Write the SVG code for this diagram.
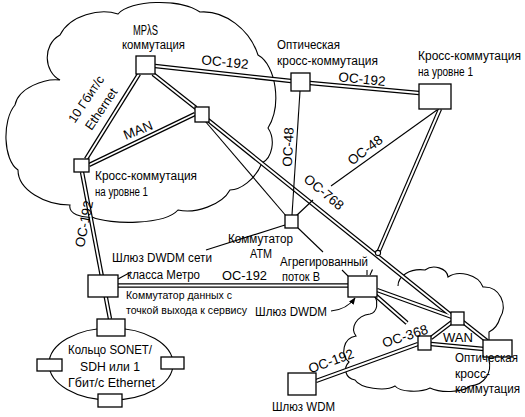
<svg xmlns="http://www.w3.org/2000/svg" width="525" height="417" viewBox="0 0 525 417">
<defs>
<marker id="ah" viewBox="0 0 10 10" refX="9" refY="5" markerWidth="7" markerHeight="7" orient="auto" markerUnits="userSpaceOnUse"><path d="M0,1 L10,5 L0,9 z" fill="#000"/></marker>
</defs>
<style>
.cloud{fill:none;stroke:#000;stroke-width:1.1}
.box{fill:#fff;stroke:#000;stroke-width:1.3}
.dbo line{stroke:#000;stroke-width:4.4}
.dbi line{stroke:#fff;stroke-width:1.9}
.sl{stroke:#000;stroke-width:1.1;fill:none}
text{font-family:"Liberation Sans",Arial,sans-serif;font-size:12.5px;fill:#000}
.sm{font-size:11.5px}
.oc{font-size:13.5px}
.big{font-size:14px}
</style>
<rect width="525" height="417" fill="#fff"/>
<g id="clouds">
<path class="cloud" d="M60,80 C44,72 42,45 60,35 C70,15 100,8 118,14 C130,0 180,-2 200,12 C225,10 250,30 258,55 C276,65 282,105 268,128 C276,140 272,158 262,163 C255,180 240,190 230,190 C222,205 195,214 178,210 C165,225 110,225 92,217 C82,218 68,214 70,205 C45,205 18,190 18,170 C3,160 2,120 15,105 C18,88 45,78 60,80 Z"/>
<path class="cloud" d="M398,286 C398,276 410,268 425,270 C433,264 447,268 448,277 C458,270 478,274 483,287 C500,286 508,305 500,318 C498,325 493,330 489,332 L489,360 C492,372 485,385 470,386 C462,393 440,393 430,388 C420,393 400,392 395,386 C385,392 360,388 355,380 C345,378 343,368 349,362 C340,355 343,338 356,336 C350,328 356,316 370,314 C378,312 378,302 375,296"/>
<ellipse class="cloud" cx="111" cy="364" rx="62" ry="36"/>
</g>
<g id="connectors">
<g class="dbo">
<line x1="155" y1="66" x2="291" y2="81"/>
<line x1="310" y1="83" x2="419" y2="93"/>
<line x1="139" y1="74" x2="86" y2="159"/>
<line x1="89" y1="165" x2="195" y2="114"/>
<line x1="153" y1="74" x2="196" y2="108"/>
<line x1="208" y1="120" x2="452" y2="316"/>
<line x1="440" y1="109" x2="378" y2="253"/>
<line x1="82" y1="172" x2="110" y2="319"/>
<line x1="118" y1="285.5" x2="348" y2="285.5"/>
<line x1="377" y1="290" x2="452" y2="317"/>
<line x1="375" y1="295" x2="407" y2="323"/>
<line x1="431" y1="338" x2="452" y2="322"/>
<line x1="463" y1="322" x2="487" y2="341"/>
<line x1="431" y1="344" x2="484" y2="349"/>
<line x1="316" y1="381" x2="418" y2="344"/>
</g>
<g class="dbi">
<line x1="155" y1="66" x2="291" y2="81"/>
<line x1="310" y1="83" x2="419" y2="93"/>
<line x1="139" y1="74" x2="86" y2="159"/>
<line x1="89" y1="165" x2="195" y2="114"/>
<line x1="153" y1="74" x2="196" y2="108"/>
<line x1="208" y1="120" x2="452" y2="316"/>
<line x1="440" y1="109" x2="378" y2="253"/>
<line x1="82" y1="172" x2="110" y2="319"/>
<line x1="118" y1="285.5" x2="348" y2="285.5"/>
<line x1="377" y1="290" x2="452" y2="317"/>
<line x1="375" y1="295" x2="407" y2="323"/>
<line x1="431" y1="338" x2="452" y2="322"/>
<line x1="463" y1="322" x2="487" y2="341"/>
<line x1="431" y1="344" x2="484" y2="349"/>
<line x1="316" y1="381" x2="418" y2="344"/>
</g>
<line class="sl" x1="300" y1="91" x2="292" y2="215"/>
<line class="sl" x1="437" y1="110" x2="331" y2="186"/>
<line class="sl" x1="313" y1="200" x2="296" y2="216"/>
<line class="sl" x1="205" y1="121" x2="287" y2="217"/>
<line class="sl" x1="285" y1="225" x2="206" y2="250"/>
<line class="sl" x1="118" y1="279" x2="131" y2="272"/>
<line class="sl" x1="298" y1="228" x2="323" y2="252"/>
<line class="sl" x1="342" y1="270" x2="348" y2="276"/>
<line class="sl" x1="367" y1="270" x2="367" y2="275"/>
<line class="sl" x1="370" y1="275" x2="372.5" y2="269.5"/>
<circle cx="378" cy="253" r="2.6" fill="#fff" stroke="#000" stroke-width="1.1"/>
<path class="sl" d="M331,311 C342,310 350,305 355,298" marker-end="url(#ah)"/>
</g>
<g id="mpls"><rect class="box" x="136" y="56" width="19" height="18"/>
<text class="big" x="133" y="35" textLength="25" lengthAdjust="spacingAndGlyphs">MPλS</text>
<text x="122" y="49" textLength="63" lengthAdjust="spacingAndGlyphs">коммутация</text></g>
<g id="man-node"><rect class="box" x="195" y="107" width="14" height="15"/></g>
<g id="xc-left"><rect class="box" x="74" y="159" width="15" height="13"/>
<text x="95" y="180" textLength="102" lengthAdjust="spacingAndGlyphs">Кросс-коммутация</text>
<text x="95" y="196" textLength="53" lengthAdjust="spacingAndGlyphs">на уровне 1</text></g>
<g id="oxc-top"><rect class="box" x="291" y="73" width="19" height="18"/>
<text x="277" y="49" textLength="63" lengthAdjust="spacingAndGlyphs">Оптическая</text>
<text x="277" y="65" textLength="101" lengthAdjust="spacingAndGlyphs">кросс-коммутация</text></g>
<g id="xc-right"><rect class="box" x="419" y="84" width="32" height="25"/>
<text x="418" y="60" textLength="103" lengthAdjust="spacingAndGlyphs">Кросс-коммутация</text>
<text x="418" y="76" textLength="55" lengthAdjust="spacingAndGlyphs">на уровне 1</text></g>
<g id="atm"><rect class="box" x="285" y="215" width="13" height="13"/>
<text x="228" y="243" textLength="65" lengthAdjust="spacingAndGlyphs">Коммутатор</text>
<text x="250" y="258" textLength="22" lengthAdjust="spacingAndGlyphs">ATM</text></g>
<g id="dwdm-metro"><rect class="box" x="88" y="275" width="30" height="22"/>
<text x="112" y="262" textLength="100" lengthAdjust="spacingAndGlyphs">Шлюз DWDM сети</text>
<text x="127" y="279" textLength="73" lengthAdjust="spacingAndGlyphs">класса Метро</text>
<text class="sm" x="126" y="299" textLength="106" lengthAdjust="spacingAndGlyphs">Коммутатор данных с</text>
<text class="sm" x="126" y="314" textLength="121" lengthAdjust="spacingAndGlyphs">точкой выхода к сервису</text></g>
<g id="ring"><rect class="box" x="97" y="319" width="28" height="17"/>
<rect class="box" x="37" y="359" width="25" height="12"/>
<rect class="box" x="161" y="357" width="23" height="12"/>
<rect class="box" x="98" y="394" width="24" height="13"/>
<text x="68" y="354" textLength="84" lengthAdjust="spacingAndGlyphs">Кольцо SONET/</text>
<text x="80" y="371" textLength="60" lengthAdjust="spacingAndGlyphs">SDH или 1</text>
<text x="68" y="387" textLength="87" lengthAdjust="spacingAndGlyphs">Гбит/с Ethernet</text></g>
<g id="dwdm-agg"><rect class="box" x="348" y="276" width="29" height="21"/>
<text x="280" y="266" textLength="88" lengthAdjust="spacingAndGlyphs">Агрегированный</text>
<text x="282" y="281" textLength="38" lengthAdjust="spacingAndGlyphs">поток В</text>
<text x="255" y="316" textLength="72" lengthAdjust="spacingAndGlyphs">Шлюз DWDM</text></g>
<g id="wan-top"><rect class="box" x="451" y="312" width="13" height="13"/></g>
<g id="wan-mid"><rect class="box" x="418" y="336" width="13" height="14"/></g>
<g id="oxc-right"><rect class="box" x="483" y="340" width="29" height="17"/>
<text x="455" y="362" textLength="63" lengthAdjust="spacingAndGlyphs">Оптическая</text>
<text x="455" y="378" textLength="35" lengthAdjust="spacingAndGlyphs">кросс-</text>
<text x="455" y="393" textLength="65" lengthAdjust="spacingAndGlyphs">коммутация</text></g>
<g id="wdm"><rect class="box" x="288" y="373" width="28" height="22"/>
<text x="272" y="411" textLength="63" lengthAdjust="spacingAndGlyphs">Шлюз WDM</text></g>
<g id="link-labels">
<text class="oc" transform="translate(225,62) rotate(6)" text-anchor="middle" y="4.7">OC-192</text>
<text class="oc" transform="translate(362,79) rotate(6)" text-anchor="middle" y="4.7">OC-192</text>
<text transform="translate(86,99) rotate(-56)" text-anchor="middle" y="4.5">10 Гбит/с</text>
<text transform="translate(101,109) rotate(-56)" text-anchor="middle" y="4.5">Ethernet</text>
<text class="oc" transform="translate(138,130) rotate(-22)" text-anchor="middle" y="4.7">MAN</text>
<text class="oc" transform="translate(288,147) rotate(-87)" text-anchor="middle" y="4.7">OC-48</text>
<text class="oc" transform="translate(365,150) rotate(-37)" text-anchor="middle" y="4.7">OC-48</text>
<text class="oc" transform="translate(324,192) rotate(40)" text-anchor="middle" y="4.7">OC-768</text>
<text class="oc" x="222" y="280" textLength="45" lengthAdjust="spacingAndGlyphs">OC-192</text>
<text class="oc" transform="translate(84,224) rotate(-79)" text-anchor="middle" y="4.7">OC-192</text>
<text class="oc" transform="translate(405,336) rotate(-18)" text-anchor="middle" y="4.7">OC-368</text>
<text class="oc" x="443" y="342" textLength="30" lengthAdjust="spacingAndGlyphs">WAN</text>
<text class="oc" transform="translate(331,361) rotate(-20)" text-anchor="middle" y="4.7">OC-192</text>
</g>
</svg>
